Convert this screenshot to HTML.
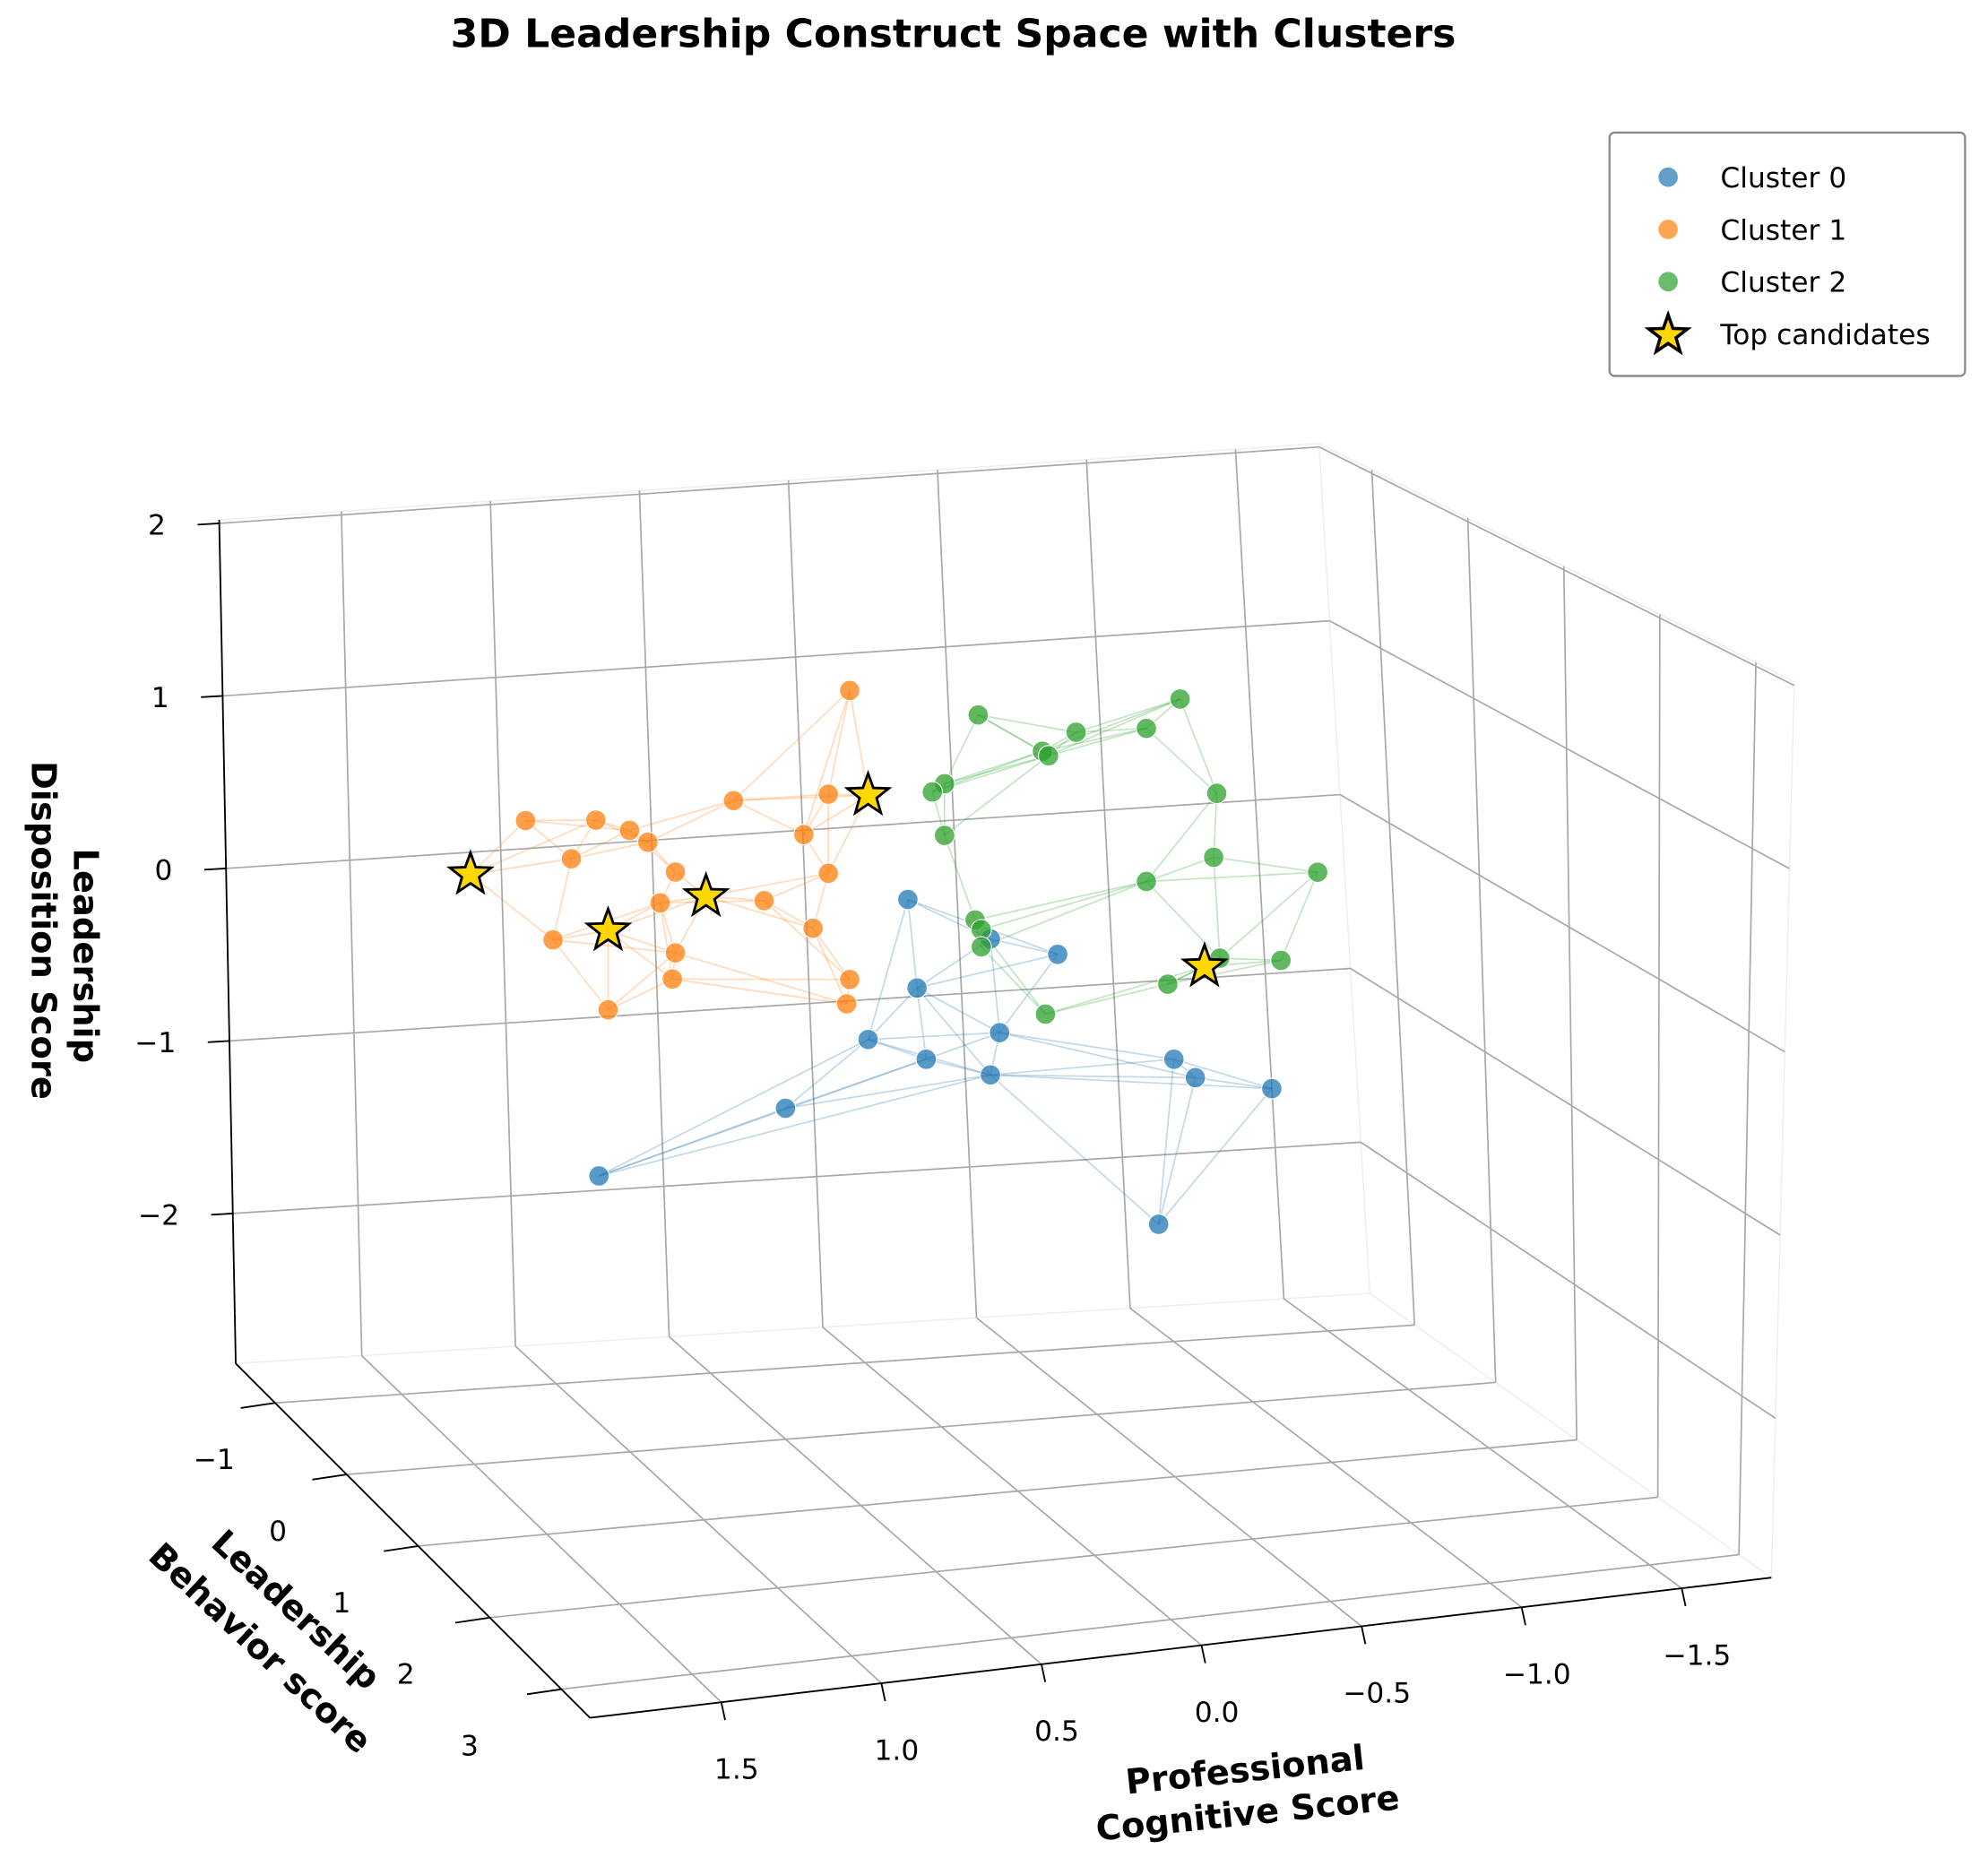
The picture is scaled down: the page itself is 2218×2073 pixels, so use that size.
<!DOCTYPE html>
<html><head><meta charset="utf-8"><style>
html,body{margin:0;padding:0;background:#fff;}
svg{display:block;font-family:"DejaVu Sans","Liberation Sans",sans-serif;}
</style></head><body>
<svg id="chart" xmlns="http://www.w3.org/2000/svg" width="2218" height="2073" viewBox="0 0 1560 1458">
<text x="748" y="37" text-anchor="middle" font-size="31" font-weight="bold">3D Leadership Construct Space with Clusters</text>
<g id="grid"></g>
<g id="lines"></g>
<g id="marks"></g>
<g>
<rect x="1263" y="104" width="279" height="191" rx="4" fill="#fff" stroke="#888" stroke-width="1.6"/>
<circle cx="1309" cy="139" r="8" fill="#1f77b4" fill-opacity="0.7" stroke="#fff" stroke-width="0.8"/>
<text x="1350" y="147" font-size="22">Cluster 0</text>
<circle cx="1309" cy="180" r="8" fill="#ff7f0e" fill-opacity="0.7" stroke="#fff" stroke-width="0.8"/>
<text x="1350" y="188" font-size="22">Cluster 1</text>
<circle cx="1309" cy="221" r="8" fill="#2ca02c" fill-opacity="0.7" stroke="#fff" stroke-width="0.8"/>
<text x="1350" y="229" font-size="22">Cluster 2</text>
<path id="legstar" fill="#FFD700" stroke="#000" stroke-width="2.5"/>
<text x="1350" y="270" font-size="22">Top candidates</text>
</g>
<g font-size="27" font-weight="bold" text-anchor="middle">
<text transform="translate(58,750) rotate(90)">Leadership</text>
<text transform="translate(25,730) rotate(90)">Disposition Score</text>
</g>
<g font-size="27" font-weight="bold" text-anchor="middle">
<text transform="translate(226,1270) rotate(43)">Leadership</text>
<text transform="translate(198,1300) rotate(43)">Behavior score</text>
</g>
<g font-size="27" font-weight="bold" text-anchor="middle">
<text transform="translate(978,1398) rotate(-6)">Professional</text>
<text transform="translate(980,1432) rotate(-6)">Cognitive Score</text>
</g>
</svg>
<script>
// ---- data (cognitive, behavior, disposition) ----
const c0Cog=[0.09,0.06,-0.18,-0.40,0.22,0.03,-0.21,-0.18,0.49,1.10,-0.78,-0.85,-1.10,-0.73];
const c0Beh=[0,0,0,0,0,0,0,0,0,0,0,0,0,0];
const c0Dis=[0.07,-0.45,-0.21,-0.34,-0.72,-0.87,-0.76,-1.00,-1.07,-1.35,-1.02,-1.14,-1.25,-1.97];
const c1Cog=[0.28,1.34,1.11,1.00,0.94,0.66,0.35,0.43,1.19,0.85,0.56,0.35,0.90,1.25,0.85,0.40,0.86,0.28,1.07,0.29];
const c1Beh=[0,0,0,0,0,0,0,0,0,0,0,0,0,0,0,0,0,0,0,0];
const c1Dis=[1.32,0.76,0.72,0.64,0.56,0.75,0.73,0.51,0.51,0.37,0.15,0.27,0.20,0.05,-0.10,-0.04,-0.25,-0.36,-0.39,-0.50];
const c2Cog=[-0.80,-0.14,-0.46,-0.69,-0.35,-0.37,-0.03,0.01,-0.92,-0.03,-0.91,-1.25,-0.69,-0.13,-0.15,-0.15,-0.93,-1.13,-0.76,-0.36];
const c2Beh=[0,0,0,0,0,0,0,0,0,0,0,0,0,0,0,0,0,0,0,0];
const c2Dis=[1.07,1.10,0.94,0.92,0.85,0.82,0.72,0.68,0.50,0.42,0.13,-0.02,0.03,-0.09,-0.15,-0.25,-0.46,-0.51,-0.58,-0.68];
const starCog=[1.52,1.07,0.75,0.22,-0.88];
const starBeh=[0,0,0,0,0];
const starDis=[0.48,0.07,0.21,0.70,-0.50];
const starCluster=[1,1,1,1,2];
const xTicks=[1.5,1.0,0.5,0.0,-0.5,-1.0,-1.5];
const yTicks=[-1,0,1,2,3];
const zTicks=[2,1,0,-1,-2];
const xTickLabels=["1.5","1.0","0.5","0.0","−0.5","−1.0","−1.5"];
const yTickLabels=["−1","0","1","2","3"];
const zTickLabels=["2","1","0","−1","−2"];

const NS="http://www.w3.org/2000/svg";
const XMAX=1.91,XMIN=-1.78,YMIN=-1.55,YMAX=3.4,ZMAX=2.02,ZMIN=-2.87;
function proj(x,y,z){return [734-240*x+60*y, 713+25*x+50*y-135*z];}
function el(tag,attrs,parent){const e=document.createElementNS(NS,tag);for(const k in attrs)e.setAttribute(k,attrs[k]);parent.appendChild(e);return e;}
function lerp(a,b,t){return [a[0]+(b[0]-a[0])*t,a[1]+(b[1]-a[1])*t];}
function bil(q,u,v){return lerp(lerp(q[0],q[1],u),lerp(q[3],q[2],u),v);}
const back=[[172,408],[1035,348],[1075,1015],[185,1070]];
const right=[[1035,348],[1408,535],[1390,1238],[1075,1015]];
const floor=[[185,1070],[1075,1015],[1390,1238],[463,1348]];
const tx=x=>(XMAX-x)/(XMAX-XMIN), ty=y=>(y-YMIN)/(YMAX-YMIN), tz=z=>(ZMAX-z)/(ZMAX-ZMIN);
const grid=document.getElementById('grid');
function line(a,b,stroke,w,name,parent){const l=el('line',{x1:a[0],y1:a[1],x2:b[0],y2:b[1],stroke:stroke,'stroke-width':w},parent||grid);

return l;}
[back,right,floor].forEach((q,i)=>{const p=el('polygon',{points:q.map(p=>p.join(',')).join(' '),fill:'#fff',stroke:'#eee','stroke-width':1},grid);

});
const gc='#a8a8a8';
xTicks.forEach(x=>{const u=tx(x);line(bil(back,u,0),bil(back,u,1),gc,1.2,'x-gridline');line(bil(floor,u,0),bil(floor,u,1),gc,1.2,'x-gridline');});
zTicks.forEach(z=>{const v=tz(z);line(bil(back,0,v),bil(back,1,v),gc,1.2,'z-gridline');line(bil(right,0,v),bil(right,1,v),gc,1.2,'z-gridline');});
yTicks.forEach(y=>{const u=ty(y);line(bil(right,u,0),bil(right,u,1),gc,1.2,'y-gridline');line(bil(floor,0,u),bil(floor,1,u),gc,1.2,'y-gridline');});
line(back[0],back[3],'#000',1.3,'z-axis-line');
line(floor[0],floor[3],'#000',1.3,'y-axis-line');
line(floor[3],floor[2],'#000',1.3,'x-axis-line');
zTicks.forEach((z,i)=>{const p=bil(back,0,tz(z));line([p[0]-17,p[1]+1],p,'#000',1.3,'z-tick');
const t=el('text',{x:p[0]-42,y:p[1]+9,'text-anchor':'end','font-size':22},grid);t.textContent=zTickLabels[i];

});
yTicks.forEach((y,i)=>{const p=bil(floor,0,ty(y));line([p[0]-27,p[1]+4],p,'#000',1.3,'y-tick');
const t=el('text',{x:p[0]-48-6*i,y:p[1]+52,'text-anchor':'middle','font-size':22},grid);t.textContent=yTickLabels[i];

});
xTicks.forEach((x,i)=>{const p=bil(floor,tx(x),1);line(p,[p[0]+3,p[1]+14],'#000',1.3,'x-tick');
const t=el('text',{x:p[0]+12,y:p[1]+60,'text-anchor':'middle','font-size':22},grid);t.textContent=xTickLabels[i];

});

const colors=['#1f77b4','#ff7f0e','#2ca02c'];
const clusters=[[c0Cog,c0Beh,c0Dis],[c1Cog,c1Beh,c1Dis],[c2Cog,c2Beh,c2Dis]];
const linesG=document.getElementById('lines'), marks=document.getElementById('marks');
clusters.forEach((c,ci)=>{
  const pts=c[0].map((_,i)=>[c[0][i],c[1][i],c[2][i]]);
  starCog.forEach((_,i)=>{if(starCluster[i]===ci)pts.push([starCog[i],starBeh[i],starDis[i]]);});
  const seen={};
  pts.forEach((p,i)=>{
    const d=pts.map((q,j)=>[Math.hypot(p[0]-q[0],p[1]-q[1],p[2]-q[2]),j]).filter(a=>a[1]!==i).sort((a,b)=>a[0]-b[0]).slice(0,4);
    d.forEach(([_,j])=>{const k=Math.min(i,j)+'-'+Math.max(i,j);if(seen[k])return;seen[k]=1;
      const a=proj(...p),b=proj(...pts[j]);
      const l=el('line',{x1:a[0],y1:a[1],x2:b[0],y2:b[1],stroke:colors[ci],'stroke-opacity':0.28,'stroke-width':1.2},linesG);
      
      });
  });
  c[0].forEach((_,i)=>{const s=proj(c[0][i],c[1][i],c[2][i]);
    const m=el('circle',{cx:s[0],cy:s[1],r:8,fill:colors[ci],'fill-opacity':0.75,stroke:'#fff','stroke-width':0.8},marks);
    
    });
});
function starPath(cx,cy,R,r){let d='';for(let k=0;k<10;k++){const a=-Math.PI/2+k*Math.PI/5,rr=k%2?r:R;d+=(k?'L':'M')+(cx+rr*Math.cos(a)).toFixed(1)+','+(cy+rr*Math.sin(a)).toFixed(1);}return d+'Z';}
starCog.forEach((_,i)=>{const s=proj(starCog[i],starBeh[i],starDis[i]);
  const m=el('path',{d:starPath(s[0],s[1],17,7),fill:'#FFD700',stroke:'#000','stroke-width':2,'stroke-linejoin':'miter'},marks);
  
  });
document.getElementById('legstar').setAttribute('d',starPath(1309,263,16,6.5));
</script>
</body></html>
